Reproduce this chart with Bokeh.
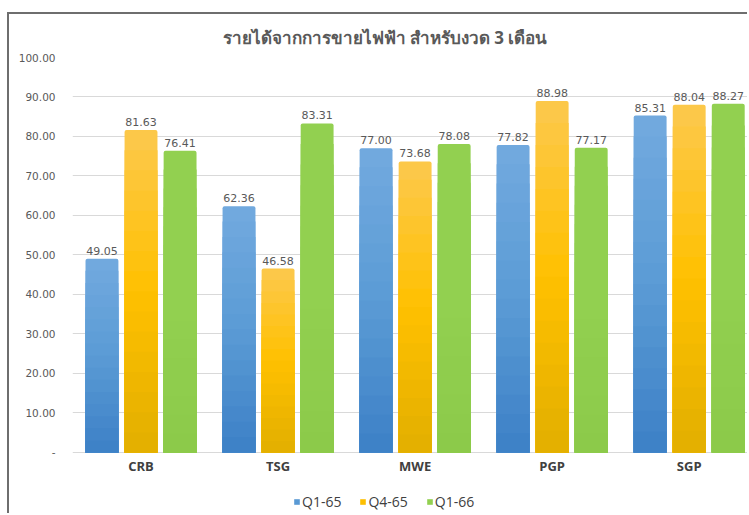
from bokeh.plotting import figure
from bokeh.models import (ColumnDataSource, FixedTicker, Legend, LegendItem, Range1d, Title)
from bokeh.core.properties import value
from bokeh.embed import file_html
from bokeh.resources import INLINE

categories = ["CRB", "TSG", "MWE", "PGP", "SGP"]
series_names = ["Q1-65", "Q4-65", "Q1-66"]
q1_65 = [49.05, 62.36, 77.00, 77.82, 85.31]
q4_65 = [81.63, 46.58, 73.68, 88.98, 88.04]
q1_66 = [76.41, 83.31, 78.08, 77.17, 88.27]
y_ticks = [0, 10, 20, 30, 40, 50, 60, 70, 80, 90, 100]
title_text = "รายได้จากการขายไฟฟ้า สำหรับงวด 3 เดือน"

# gradient stops (top, middle, bottom) per series
grads = [("#72aadf", "#5b9bd5", "#3c80c6"),
         ("#fcc94e", "#ffc000", "#e2af00"),
         ("#92d050", "#92d050", "#8cca4a")]
offsets = [-0.285, 0.0, 0.285]
bar_w = 0.24
NUM_FONT = "DejaVu Sans"
FONT = "Open Sans"
N = 16


def hex2rgb(h):
    h = h.lstrip("#")
    return [int(h[i:i + 2], 16) for i in (0, 2, 4)]


def mix(c1, c2, t):
    a, b = hex2rgb(c1), hex2rgb(c2)
    return "#%02x%02x%02x" % tuple(round(a[i] + (b[i] - a[i]) * t) for i in range(3))


def grad_color(stops, f):
    # f = 1 at top, 0 at bottom
    top, mid, bot = stops
    if f >= 0.5:
        return mix(mid, top, (f - 0.5) / 0.5)
    return mix(bot, mid, f / 0.5)


p = figure(width=740, height=501, output_backend="svg", toolbar_location=None,
           x_range=Range1d(0, 4.94), y_range=Range1d(-15.95, 100), x_axis_location=None,
           min_border_left=63, min_border_right=0, min_border_top=43, min_border_bottom=0)
p.styles = {"margin-left": "7px", "margin-top": "12px",
            "border-left": "2px solid #6e6e6e", "border-top": "2px solid #6e6e6e"}
p.outline_line_color = None
p.background_fill_color = "white"

p.title = Title(text=title_text, align="left", vertical_align="top", text_font=FONT,
                text_font_size="17px", text_font_style="bold", text_color="#595959",
                offset=150, standoff=14)

legend_renderers = []
for vals, off, stops in zip([q1_65, q4_65, q1_66], offsets, grads):
    xs = [i + 0.5 + off for i in range(len(categories))]
    leg_r = None
    for j in range(N):
        frac = (N - j) / N
        src = ColumnDataSource(dict(x=xs, top=[v * frac for v in vals]))
        radius = (2, 2, 0, 0) if j == 0 else 0
        r = p.vbar(x="x", top="top", width=bar_w, bottom=0, source=src,
                   fill_color=grad_color(stops, frac - 0.5 / N), line_color=None,
                   border_radius=radius)
        if j == N // 2:
            leg_r = r
    legend_renderers.append(leg_r)
    lsrc = ColumnDataSource(dict(x=xs, top=vals, lab=[f"{v:.2f}" for v in vals]))
    p.text(x="x", y="top", text="lab", source=lsrc, text_align="center", text_baseline="bottom",
           y_offset=-4, text_font=value(NUM_FONT), text_font_size="11px", text_color="#595959")

# category labels (x axis) drawn at the zero line
csrc = ColumnDataSource(dict(x=[i + 0.5 for i in range(len(categories))],
                             y=[y_ticks[0]] * len(categories), t=categories))
p.text(x="x", y="y", text="t", source=csrc, text_align="center", text_baseline="middle",
       y_offset=14, text_font=value(FONT), text_font_size="13px", text_font_style="bold",
       text_color="#404040")

p.yaxis.ticker = FixedTicker(ticks=y_ticks)
p.yaxis.major_label_overrides = {t: ("-" if t == 0 else f"{t:.2f}") for t in y_ticks}
p.yaxis.major_label_text_font = NUM_FONT
p.yaxis.major_label_text_font_size = "10.5px"
p.yaxis.major_label_text_color = "#595959"
p.yaxis.axis_line_color = None
p.yaxis.major_tick_line_color = None
p.yaxis.major_tick_out = 0
p.yaxis.major_tick_in = 0
p.yaxis.minor_tick_line_color = None
p.yaxis.major_label_standoff = 17

p.xgrid.grid_line_color = None
p.ygrid.grid_line_color = "#d9d9d9"

legend = Legend(items=[LegendItem(label=n, renderers=[r]) for n, r in zip(series_names, legend_renderers)],
                orientation="horizontal", location=(221, 4), glyph_width=7, glyph_height=7,
                label_text_font=FONT, label_text_font_size="14px", label_text_color="#404040",
                border_line_color=None, background_fill_alpha=0, spacing=18, label_standoff=2,
                margin=0, padding=0)
p.add_layout(legend, "center")

open("out.html", "w").write(file_html(p, INLINE))
